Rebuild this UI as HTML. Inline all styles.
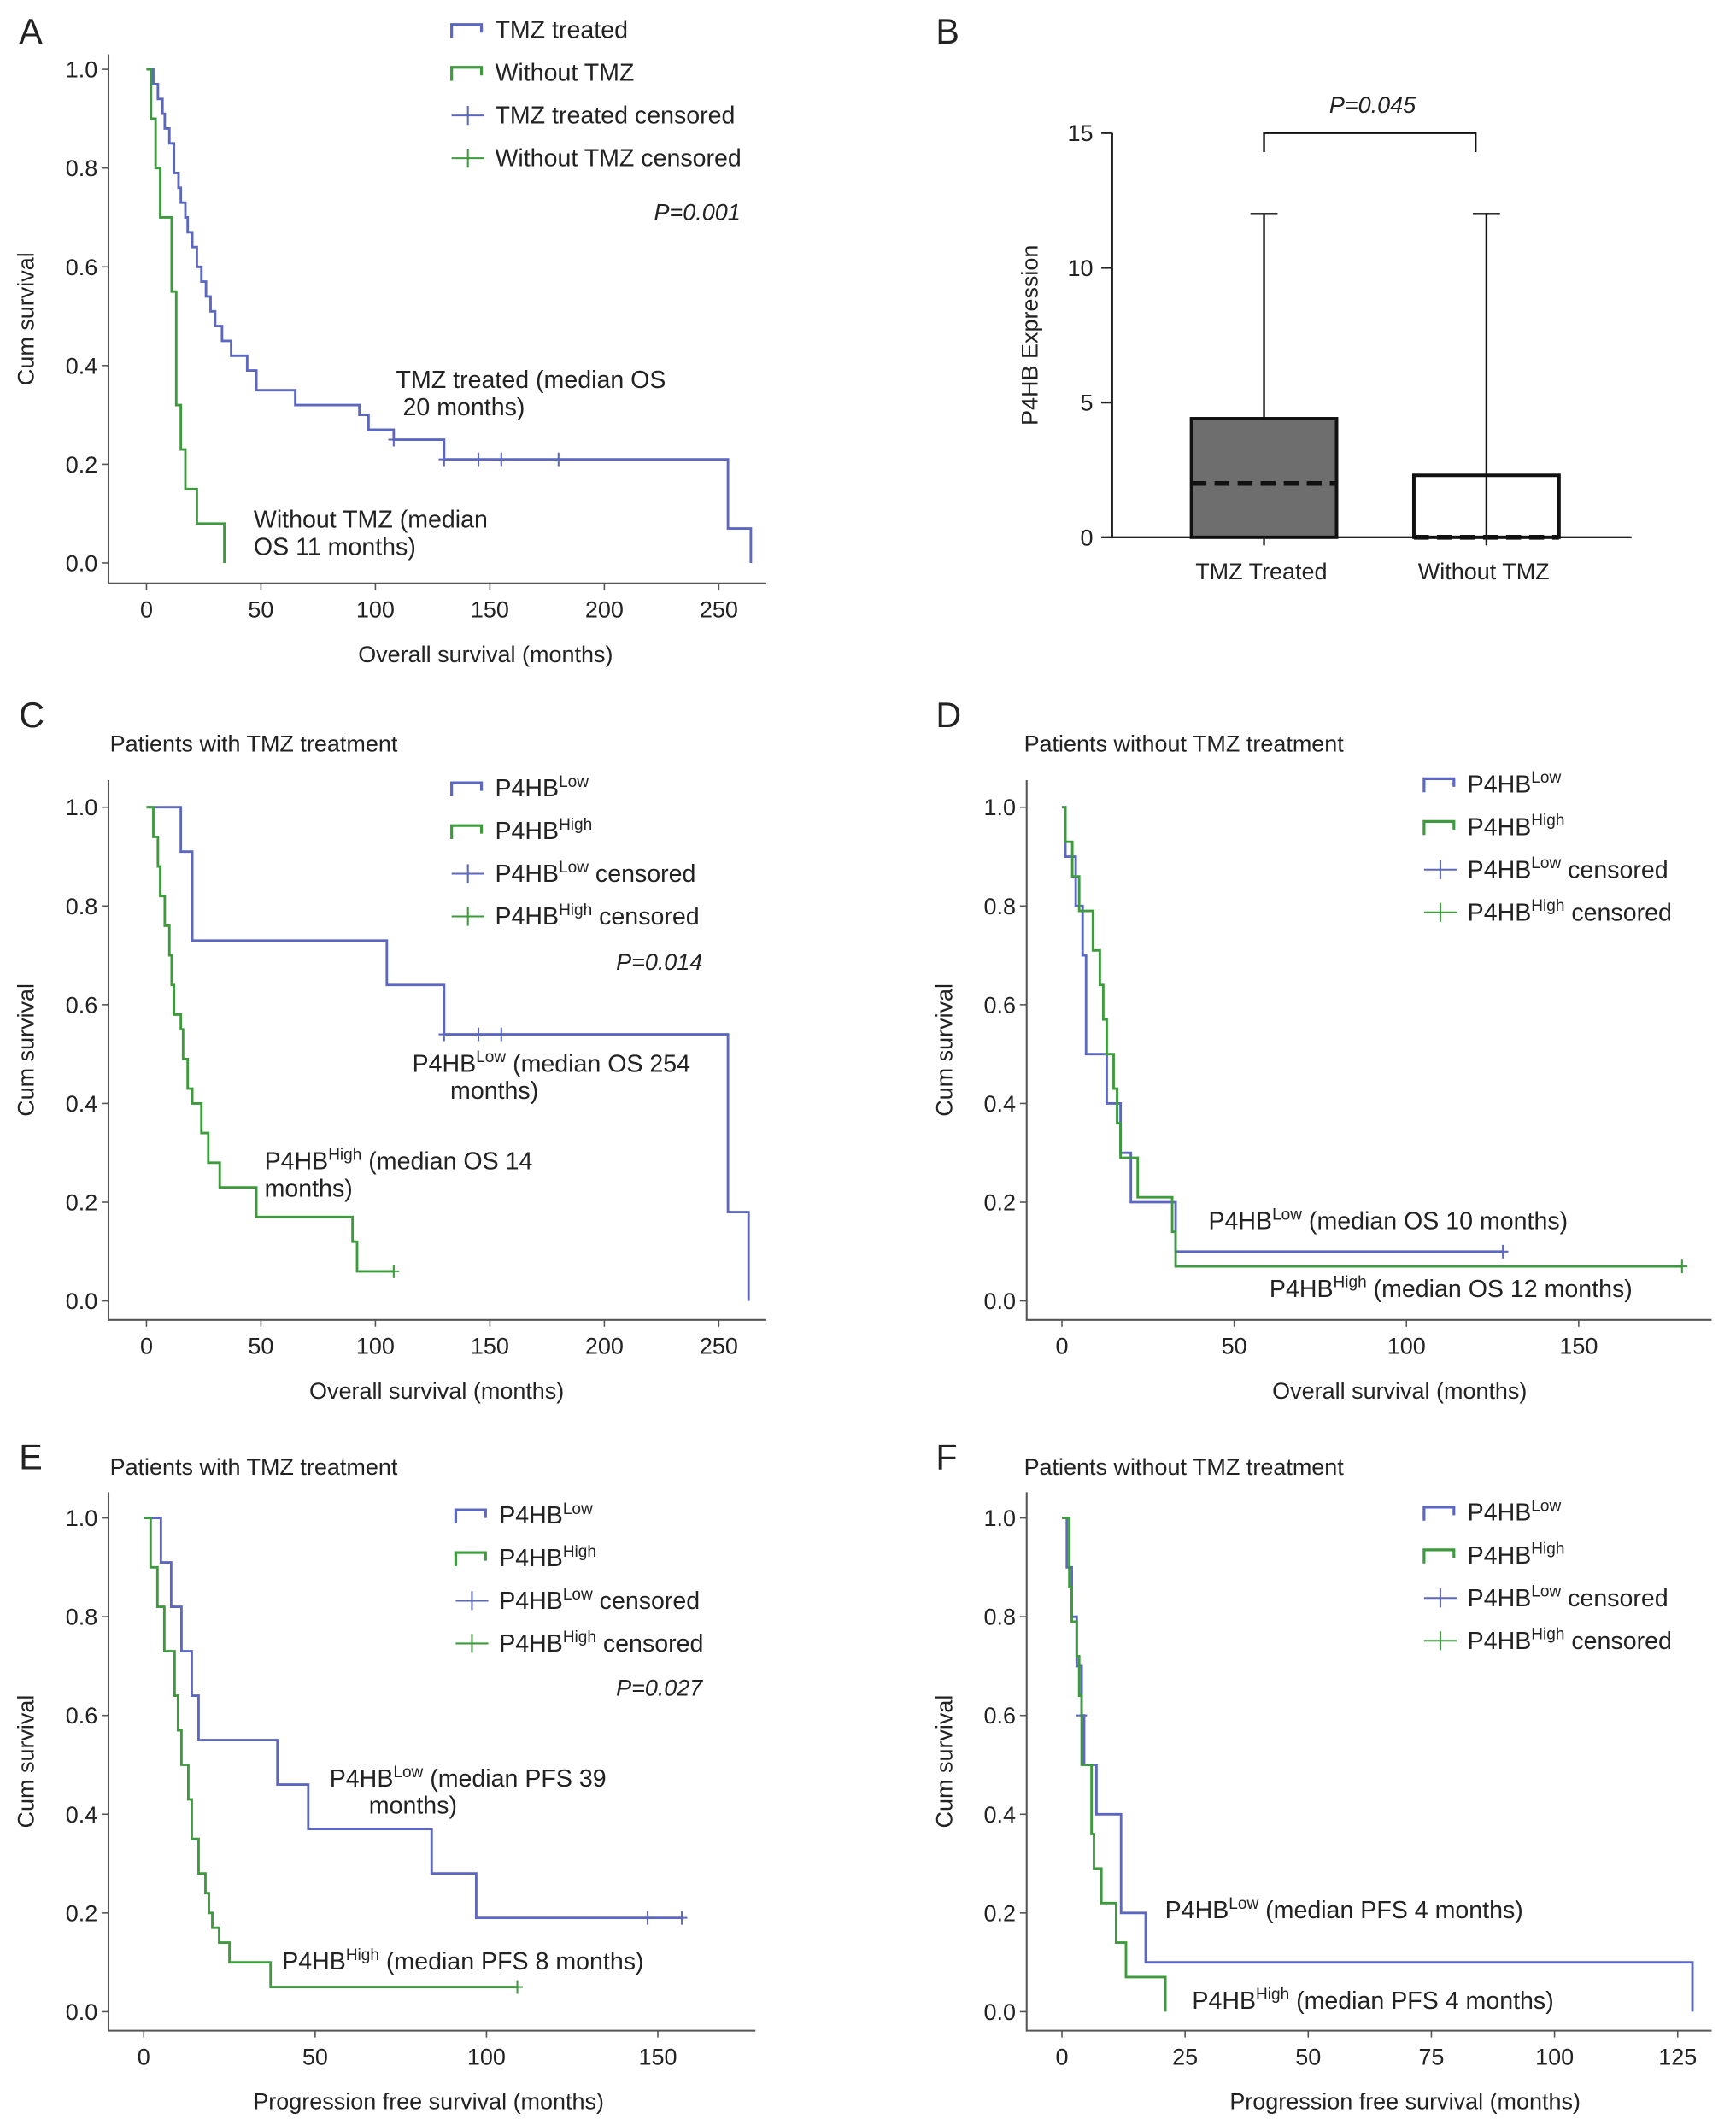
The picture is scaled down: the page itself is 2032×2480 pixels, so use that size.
<!DOCTYPE html>
<html><head><meta charset="utf-8"><style>
html,body{margin:0;padding:0;background:#fff}
svg{display:block}
text{font-family:"Liberation Sans",Arial,sans-serif;fill:#222}
</style></head><body>
<svg id="fig" width="2032" height="2480" viewBox="0 0 1280 1562" xmlns="http://www.w3.org/2000/svg"></svg>
<script>
// ===== Data =====
// Panel A
const aTmzT=[3,5,7,8,10,12,14,15,17,18,20,22,24,26,28,30,33,37,44,48,65,93,97,108,130,254,264];
const aTmzS=[0.97,0.94,0.91,0.88,0.85,0.79,0.76,0.73,0.70,0.67,0.64,0.60,0.57,0.54,0.51,0.48,0.45,0.42,0.39,0.35,0.32,0.30,0.27,0.25,0.21,0.07,0.0];
const aTmzC=[108,130,145,155,180];
const aWoT=[2,4,6,11,13,15,17,22,34];
const aWoS=[0.9,0.8,0.70,0.55,0.32,0.23,0.15,0.08,0.0];
const aWoC=[];
// Panel B
const bCats=["TMZ Treated","Without TMZ"];
const bTop=[4.4,2.3];
const bMed=[2,0];
const bMax=[12,12];
const bTicks=[0,5,10,15];
// Panel C
const cLowT=[15,20,105,130,254,263];
const cLowS=[0.91,0.73,0.64,0.54,0.18,0.0];
const cLowC=[130,145,155];
const cHighT=[3,5,6,8,10,11,12,15,16,18,20,24,27,32,48,90,92];
const cHighS=[0.94,0.88,0.82,0.76,0.70,0.64,0.58,0.55,0.49,0.43,0.40,0.34,0.28,0.23,0.17,0.12,0.06];
const cHighC=[108];
// Panel D
const dLowT=[1,4,6,7,13,17,20,33];
const dLowS=[0.9,0.8,0.7,0.5,0.4,0.3,0.2,0.1];
const dLowC=[128];
const dHighT=[1,3,5,9,11,12,13,15,16,17,22,32,33];
const dHighS=[0.93,0.86,0.79,0.71,0.64,0.57,0.5,0.43,0.36,0.29,0.21,0.14,0.07];
const dHighC=[180];
// Panel E
const eLowT=[5,8,11,14,16,39,48,84,97];
const eLowS=[0.91,0.82,0.73,0.64,0.55,0.46,0.37,0.28,0.19];
const eLowC=[147,157];
const eHighT=[2,4,6,9,10,11,13,14,16,18,19,20,22,25,37];
const eHighS=[0.9,0.82,0.73,0.64,0.57,0.5,0.43,0.35,0.28,0.24,0.2,0.17,0.14,0.1,0.05];
const eHighC=[109];
// Panel F
const fLowT=[1,2,3,4,4.5,7,12,17,128];
const fLowS=[0.9,0.8,0.7,0.6,0.5,0.4,0.2,0.1,0.0];
const fLowC=[4];
const fHighT=[1.5,2,3,3.5,4,6,6.5,8,11,13,21];
const fHighS=[0.86,0.79,0.72,0.64,0.5,0.36,0.29,0.22,0.14,0.07,0.0];
const fHighC=[];

const BLUE="#5b67c0", GREEN="#3d9a3d";
const svg=document.getElementById('fig');
const NS="http://www.w3.org/2000/svg";
function el(tag,attrs,parent){const e=document.createElementNS(NS,tag);for(const k in attrs)e.setAttribute(k,attrs[k]);(parent||svg).appendChild(e);return e;}
function txt(x,y,s,size,anchor,parent,extra){const t=el('text',Object.assign({x:x,y:y,'font-size':size||17,'text-anchor':anchor||'start'},extra||{}),parent);t.textContent=s;return t;}

function kmPanel(cfg){
  const g=el('g',{});
  
  
  const xs=v=>cfg.x0+v*cfg.xk, ys=v=>cfg.y0-v*364;
  const ax=el('path',{d:`M${cfg.axX},${cfg.axTop} V${cfg.axY} H${cfg.axRight}`,stroke:'#555','stroke-width':1.3,fill:'none'},g);
  
  
  [0,0.2,0.4,0.6,0.8,1.0].forEach(v=>{
    el('line',{x1:cfg.axX-5,x2:cfg.axX,y1:ys(v),y2:ys(v),stroke:'#555'},g);
    const t=txt(cfg.axX-8,ys(v)+6,v.toFixed(1),17,'end',g);
    
    
  });
  cfg.xticks.forEach(v=>{
    el('line',{x1:xs(v),x2:xs(v),y1:cfg.axY,y2:cfg.axY+5,stroke:'#555'},g);
    const t=txt(xs(v),cfg.axY+25,String(v),17,'middle',g);
    
    
  });
  const yt=txt(0,0,'Cum survival',17,'middle',g,{transform:`translate(${cfg.axX-55},${(cfg.axTop+cfg.axY)/2}) rotate(-90)`});
  
  
  const xt=txt(cfg.xtc,cfg.axY+58,cfg.xlabel,17,'middle',g);
  
  
  cfg.series.forEach(s=>{
    let d=`M${xs(0)},${ys(1)}`;
    for(let i=0;i<s.t.length;i++){d+=` H${xs(s.t[i])} V${ys(s.s[i])}`;}
    const end=s.c.length?Math.max(...s.c, s.t[s.t.length-1]):s.t[s.t.length-1];
    d+=` H${xs(end)}`;
    const p=el('path',{d:d,stroke:s.color,'stroke-width':1.8,fill:'none'},g);
    
    
    s.c.forEach(ct=>{
      let v=1;for(let i=0;i<s.t.length;i++){if(s.t[i]<=ct)v=s.s[i];}
      const m=el('path',{d:`M${xs(ct)-4},${ys(v)} h8 M${xs(ct)},${ys(v)-5} v10`,stroke:s.color,'stroke-width':1.3},g);
      
      
    });
  });
  return g;
}
function legend(x,y,items,gap){
  const g=el('g',{});
  
  
  items.forEach((it,i)=>{
    const yy=y+i*gap;
    const e=el('g',{},g);
    
    
    if(it.censor) el('path',{d:`M${x},${yy} h24 M${x+12},${yy-7} v14`,stroke:it.color,'stroke-width':1.3,fill:'none'},e);
    else el('path',{d:`M${x},${yy+6} V${yy-4} H${x+22} V${yy+2}`,stroke:it.color,'stroke-width':2,fill:'none'},e);
    const t=el('text',{x:x+32,y:yy+6,'font-size':18},e);
    if(it.sup){t.appendChild(document.createTextNode('P4HB'));const ts=el('tspan',{'font-size':12,dy:-7},t);ts.textContent=it.sup;const r=el('tspan',{dy:7},t);r.textContent=it.rest||'';}
    else t.textContent=it.label;
  });
}
function ann(x,y,parts,name){
  const t=el('text',{x:x,y:y,'font-size':18});
  
  
  parts.forEach(p=>{const s=el('tspan',p.a||{},t);s.textContent=p.s;});
}
function italic(x,y,s){const t=txt(x,y,s,17,'end',svg,{'font-style':'italic'});}
function panelLetter(x,y,s){const t=txt(x,y,s,26);}
function title(x,y,s){const t=txt(x,y,s,17);}

// Panel A
panelLetter(14,32,'A');
kmPanel({name:'panel-a-chart',x0:108,xk:1.688,y0:415,axX:80,axTop:40,axY:430,axRight:565,xtc:358,xticks:[0,50,100,150,200,250],xlabel:'Overall survival (months)',
 series:[{name:'tmz-treated',t:aTmzT,s:aTmzS,c:aTmzC,color:BLUE},{name:'without-tmz',t:aWoT,s:aWoS,c:aWoC,color:GREEN}]});
legend(333,22,[{label:'TMZ treated',color:BLUE},{label:'Without TMZ',color:GREEN},{label:'TMZ treated censored',color:BLUE,censor:1},{label:'Without TMZ censored',color:GREEN,censor:1}],31.5);
italic(546,162,'P=0.001');
ann(292,286,[{s:'TMZ treated (median OS'}],'annotation-tmz');
ann(297,306,[{s:'20 months)'}],'annotation-tmz-2');
ann(187,389,[{s:'Without TMZ (median'}],'annotation-without');
ann(187,409,[{s:'OS 11 months)'}],'annotation-without-2');

// Panel B
panelLetter(690,32,'B');
(function(){
  const g=el('g',{});
  
  
  const y=v=>396-v*19.87;
  const ax=el('path',{d:`M820,${y(15)} V396 H1203`,stroke:'#222','stroke-width':1.5,fill:'none'},g);
  
  
  bTicks.forEach(v=>{el('line',{x1:812,x2:820,y1:y(v),y2:y(v),stroke:'#222','stroke-width':1.5},g);
    const t=txt(806,y(v)+6,String(v),17,'end',g);});
  const yt=txt(0,0,'P4HB Expression',17,'middle',g,{transform:'translate(765,247) rotate(-90)'});
  
  const cx=[932,1096];
  bCats.forEach((c,i)=>{
    const w=107,x=cx[i]-w/2;
    const wh=el('line',{x1:cx[i],x2:cx[i],y1:y(bMax[i]),y2:396,stroke:'#111','stroke-width':1.5},g);
    
    el('line',{x1:cx[i]-10,x2:cx[i]+10,y1:y(bMax[i]),y2:y(bMax[i]),stroke:'#111','stroke-width':1.5},g);
    const r=el('rect',{x:x,y:y(bTop[i]),width:w,height:396-y(bTop[i]),fill:i==0?'#6e6e6e':'none',stroke:'#111','stroke-width':2.5},g);
    
    const m=el('line',{x1:x,x2:x+w,y1:y(bMed[i]),y2:y(bMed[i]),stroke:'#111','stroke-width':3.5,'stroke-dasharray':'11,6'},g);
    
    el('line',{x1:cx[i],x2:cx[i],y1:396,y2:402,stroke:'#222','stroke-width':1.5},g);
    const t=txt(cx[i]-2,427,c,17,'middle',g);
  });
  const br=el('path',{d:'M932,112 V98 H1088 V112',stroke:'#111','stroke-width':1.5,fill:'none'},g);
  
  const p=txt(1012,83,'P=0.045',17,'middle',g,{'font-style':'italic'});
})();

// Panel C
panelLetter(14,536,'C');
title(81,554,'Patients with TMZ treatment');
kmPanel({name:'panel-c-chart',x0:108,xk:1.688,y0:959,axX:80,axTop:575,axY:973,axRight:565,xtc:322,xticks:[0,50,100,150,200,250],xlabel:'Overall survival (months)',
 series:[{name:'p4hb-low',t:cLowT,s:cLowS,c:cLowC,color:BLUE},{name:'p4hb-high',t:cHighT,s:cHighS,c:cHighC,color:GREEN}]});
legend(333,581,[{sup:'Low',color:BLUE},{sup:'High',color:GREEN},{sup:'Low',rest:' censored',color:BLUE,censor:1},{sup:'High',rest:' censored',color:GREEN,censor:1}],31.5);
italic(518,715,'P=0.014');
ann(304,790,[{s:'P4HB'},{s:'Low',a:{'font-size':12,dy:-7}},{s:' (median OS 254',a:{dy:7}}],'annotation-low');
ann(332,810,[{s:'months)'}],'annotation-low-2');
ann(195,862,[{s:'P4HB'},{s:'High',a:{'font-size':12,dy:-7}},{s:' (median OS 14',a:{dy:7}}],'annotation-high');
ann(195,882,[{s:'months)'}],'annotation-high-2');

// Panel D
panelLetter(690,536,'D');
title(755,554,'Patients without TMZ treatment');
kmPanel({name:'panel-d-chart',x0:783,xk:2.54,y0:959,axX:757,axTop:575,axY:973,axRight:1262,xtc:1032,xticks:[0,50,100,150],xlabel:'Overall survival (months)',
 series:[{name:'p4hb-low',t:dLowT,s:dLowS,c:dLowC,color:BLUE},{name:'p4hb-high',t:dHighT,s:dHighS,c:dHighC,color:GREEN}]});
legend(1050,578,[{sup:'Low',color:BLUE},{sup:'High',color:GREEN},{sup:'Low',rest:' censored',color:BLUE,censor:1},{sup:'High',rest:' censored',color:GREEN,censor:1}],31.5);
ann(891,906,[{s:'P4HB'},{s:'Low',a:{'font-size':12,dy:-7}},{s:' (median OS 10 months)',a:{dy:7}}],'annotation-low');
ann(936,956,[{s:'P4HB'},{s:'High',a:{'font-size':12,dy:-7}},{s:' (median OS 12 months)',a:{dy:7}}],'annotation-high');

// Panel E
panelLetter(14,1083,'E');
title(81,1087,'Patients with TMZ treatment');
kmPanel({name:'panel-e-chart',x0:106,xk:2.527,y0:1483,axX:80,axTop:1100,axY:1497,axRight:557,xtc:316,xticks:[0,50,100,150],xlabel:'Progression free survival (months)',
 series:[{name:'p4hb-low',t:eLowT,s:eLowS,c:eLowC,color:BLUE},{name:'p4hb-high',t:eHighT,s:eHighS,c:eHighC,color:GREEN}]});
legend(336,1117,[{sup:'Low',color:BLUE},{sup:'High',color:GREEN},{sup:'Low',rest:' censored',color:BLUE,censor:1},{sup:'High',rest:' censored',color:GREEN,censor:1}],31.5);
italic(518,1250,'P=0.027');
ann(243,1317,[{s:'P4HB'},{s:'Low',a:{'font-size':12,dy:-7}},{s:' (median PFS 39',a:{dy:7}}],'annotation-low');
ann(272,1337,[{s:'months)'}],'annotation-low-2');
ann(208,1452,[{s:'P4HB'},{s:'High',a:{'font-size':12,dy:-7}},{s:' (median PFS 8 months)',a:{dy:7}}],'annotation-high');

// Panel F
panelLetter(690,1083,'F');
title(755,1087,'Patients without TMZ treatment');
kmPanel({name:'panel-f-chart',x0:783,xk:3.632,y0:1483,axX:757,axTop:1100,axY:1497,axRight:1262,xtc:1036,xticks:[0,25,50,75,100,125],xlabel:'Progression free survival (months)',
 series:[{name:'p4hb-low',t:fLowT,s:fLowS,c:fLowC,color:BLUE},{name:'p4hb-high',t:fHighT,s:fHighS,c:fHighC,color:GREEN}]});
legend(1050,1115,[{sup:'Low',color:BLUE},{sup:'High',color:GREEN},{sup:'Low',rest:' censored',color:BLUE,censor:1},{sup:'High',rest:' censored',color:GREEN,censor:1}],31.5);
ann(859,1414,[{s:'P4HB'},{s:'Low',a:{'font-size':12,dy:-7}},{s:' (median PFS 4 months)',a:{dy:7}}],'annotation-low');
ann(879,1481,[{s:'P4HB'},{s:'High',a:{'font-size':12,dy:-7}},{s:' (median PFS 4 months)',a:{dy:7}}],'annotation-high');
</script>
</body></html>
